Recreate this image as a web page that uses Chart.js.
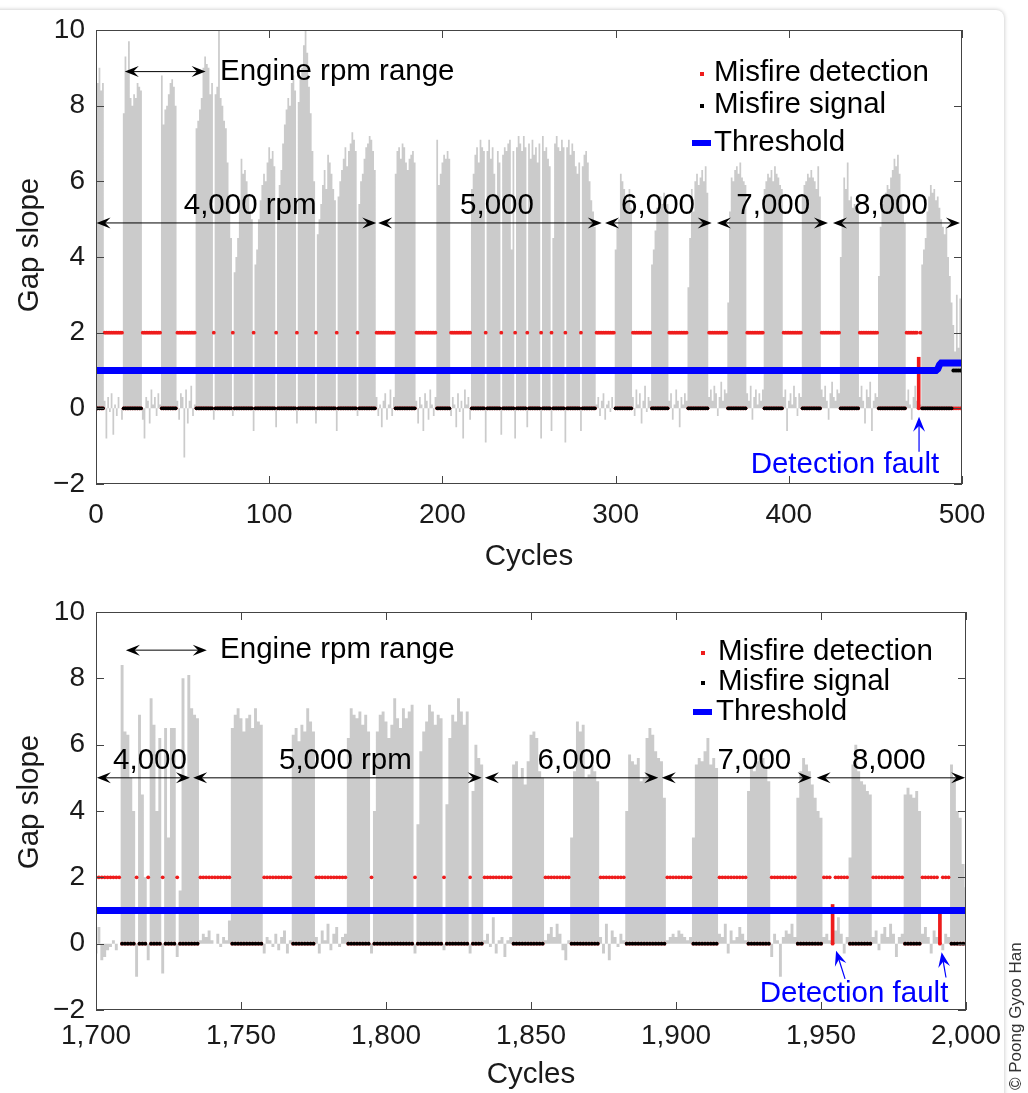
<!DOCTYPE html>
<html><head><meta charset="utf-8">
<script src="https://cdn.jsdelivr.net/npm/chart.js@4.4.1/dist/chart.umd.min.js"></script>
<style>
html,body{margin:0;padding:0;background:#fff;width:1028px;height:1093px;overflow:hidden;font-family:"Liberation Sans",Arial,sans-serif}
#card{position:absolute;left:-10px;top:10px;width:1014px;height:1100px;background:#fff;border-radius:8px;box-shadow:0 0 4px rgba(0,0,0,0.25)}
#c1{position:absolute;left:0;top:0}
#c2{position:absolute;left:0;top:580px}
#copy{position:absolute;left:1007px;top:1090px;transform:rotate(-90deg);transform-origin:0 0;font-size:17px;color:#333;white-space:nowrap;line-height:1}
</style></head>
<body>
<div id="card"></div>
<canvas id="c1" width="1028" height="580"></canvas>
<canvas id="c2" width="1028" height="513"></canvas>
<div id="copy">© Poong Gyoo Han</div>
<script>
// ---------------- DATA: top panel (cycles 0..500) ----------------
const topStart = 0;
const topSlope = [
 9.2,8.6,9.0,8.4,8.6,
 0.2,-0.8,0.3,-0.1,0.4,-0.7,0.1,-0.2,0.3,0.0,-0.3,
 7.8,9.3,8.9,9.7,8.2,8.0,8.3,8.2,8.6,8.5,8.4,
 -0.3,-0.8,0.3,0.2,-0.4,0.5,0.1,0.3,-0.2,0.4,0.1,
 8.8,7.5,7.9,8.0,8.3,8.6,8.7,8.5,8.0,
 0.2,-0.3,0.4,0.3,-1.3,0.5,-0.4,0.2,0.6,-0.2,0.1,
 7.4,7.6,7.9,8.2,9.0,9.3,9.1,9.0,8.3,8.6,
 -0.3,
 8.3,8.5,10.0,8.2,8.0,7.6,7.4,6.5,5.5,4.5,
 -0.2,
 3.6,4.0,4.5,5.5,6.6,6.2,6.3,6.0,5.6,5.2,5.0,
 -0.6,
 3.8,4.2,5.0,5.5,5.9,6.2,6.0,6.5,6.9,6.6,6.8,6.4,
 -0.5,
 5.5,5.9,6.3,7.0,7.5,7.9,8.2,8.0,8.6,8.8,8.4,
 -0.4,
 8.1,8.7,9.0,9.6,10.0,9.4,8.5,7.8,6.8,6.0,
 -0.4,
 4.6,5.0,5.4,5.9,6.3,5.8,6.7,6.5,6.2,5.8,5.5,
 -0.6,
 5.6,6.0,6.3,6.6,6.9,6.4,6.8,7.0,7.3,7.1,6.8,
 -0.2,
 5.4,6.0,6.2,6.6,6.9,7.0,7.2,7.1,6.8,6.3,
 0.3,-0.2,0.1,-0.5,0.2,0.4,-0.3,0.1,0.5,-0.2,0.3,
 6.2,6.8,6.9,6.6,7.0,6.9,6.5,6.3,6.6,6.7,6.8,6.5,
 0.2,-0.4,0.3,0.1,-0.6,0.4,0.2,-0.3,0.5,0.1,-0.2,0.3,
 7.1,5.9,6.2,6.5,6.7,6.6,6.8,6.6,
 -0.2,0.3,0.1,-0.5,0.4,-0.1,0.2,-0.8,0.5,0.1,0.3,-0.3,
 5.8,6.2,6.7,6.9,6.5,7.1,6.9,6.8,
 -0.9,
 6.8,7.1,6.6,6.9,6.2,5.6,6.8,6.5,
 -0.7,
 6.7,6.9,6.8,7.0,7.1,4.2,6.8,
 -0.8,
 6.9,7.2,7.0,6.8,7.2,6.9,
 -0.5,
 7.0,6.6,7.1,6.7,6.9,6.5,7.0,
 -0.8,
 7.2,6.8,6.9,6.6,6.4,
 -0.6,
 4.5,7.0,7.2,6.9,6.8,7.1,6.9,
 -0.9,
 6.9,7.1,6.7,7.0,6.8,6.4,6.2,6.5,
 -0.6,
 6.4,6.7,6.8,6.5,6.0,5.5,5.2,4.8,
 0.1,0.3,-0.2,0.2,0.4,-0.3,0.1,0.2,-0.1,0.3,0.0,
 4.2,4.8,5.0,6.2,6.0,5.8,5.6,5.5,5.8,5.3,
 0.3,-0.2,0.5,0.1,0.4,-0.4,0.2,0.6,-0.1,0.3,0.2,
 3.8,4.2,4.7,5.3,5.5,5.6,5.4,5.7,5.5,5.4,
 0.2,0.4,-0.3,0.1,0.5,0.2,-0.5,0.3,0.1,0.4,0.2,
 3.2,4.5,5.8,5.2,6.0,6.2,5.9,6.1,6.3,6.0,6.4,5.7,
 0.3,0.5,0.2,0.6,0.4,-0.2,0.3,0.7,0.2,0.5,0.4,
 2.8,5.2,6.1,6.0,6.3,6.4,6.2,6.5,6.1,6.0,5.9,
 0.4,0.2,0.6,-0.3,0.3,0.5,0.1,0.4,0.2,0.5,
 5.8,6.0,6.2,6.1,6.3,6.0,6.4,6.2,6.1,5.9,5.8,
 0.3,0.5,-0.6,0.2,0.4,0.1,0.6,0.3,-0.2,0.4,0.3,
 5.6,5.9,6.0,6.2,6.1,6.3,6.1,6.0,5.8,6.4,5.6,
 0.5,0.3,0.6,0.2,-0.3,0.4,0.7,0.3,0.2,0.5,0.4,
 4.0,5.0,6.1,5.8,6.5,5.5,5.6,5.3,5.4,5.2,5.3,
 0.3,0.6,0.2,-0.4,0.5,0.3,0.7,-0.6,0.2,0.4,0.3,
 3.5,4.8,5.4,5.6,5.7,5.9,5.8,6.1,6.3,6.6,6.4,6.7,6.2,5.6,5.2,4.9,
 0.2,0.5,0.1,-0.3,0.3,0.6,0.2,1.35,0.1,
 3.8,4.2,4.5,5.2,5.6,5.9,5.7,5.8,5.5,5.6,5.3,5.0,4.8,4.6,4.8,4.0,3.5,2.8,
 2.2,1.5,3.0,1.6,2.9,1.4
];
const topMisfire = [[0,4],[16,26],[38,46],[58,67],[69,78],[80,90],[92,103],[105,115],[117,126],[128,138],[140,150],[152,161],
 [173,184],[197,204],[217,224],[226,233],[235,241],[243,248],[250,256],[258,262],[264,270],[272,279],[281,288],
 [300,309],[321,330],[342,353],[365,375],[386,396],[408,418],[430,440],[452,467],[477,494]];
const topFalseDetect = [475,495,496,497,498,499,500];
const topFaults = [475];
const topThreshold = [[0,1.0],[485,1.0],[486,1.04],[487,1.15],[488,1.2],[500,1.2]];
const topRpmNames = ['4,000 rpm','5,000','6,000','7,000','8,000'];
const topRpmSpans = [[0.3,161.8],[162.9,292],[293.9,355.5],[358.5,422.6],[425.5,498.8]];
const topRpmLabelX = [89,231.5,324.5,391,459];

// ---------------- DATA: bottom panel (cycles 1700..2000) ----------------
const botStart = 1700;
const botSlope = [
 -0.3,0.5,-0.5,-0.4,-0.2,-0.1,0.1,-0.2,0.0,
 8.4,6.4,6.3,5.0,4.0,
 -1.0,
 6.9,4.5,2.0,
 -0.5,
 7.4,6.6,4.0,6.2,
 -0.9,
 6.5,3.2,6.5,6.5,
 -0.4,
 1.6,8.0,5.0,8.1,7.1,6.9,6.8,
 0.1,0.3,0.2,0.4,0.1,0.0,0.3,-0.1,0.2,0.1,0.7,
 6.5,6.9,7.1,6.8,6.4,6.8,6.9,6.5,7.1,6.7,6.6,
 -0.3,0.2,0.1,-0.1,0.3,-0.2,0.2,0.4,-0.3,0.1,
 6.3,6.5,6.1,6.6,6.4,7.1,6.7,6.4,
 0.2,-0.3,0.4,0.1,0.6,-0.2,0.3,0.5,-0.1,0.2,0.3,
 6.2,7.1,6.9,6.8,7.0,6.6,6.9,6.4,
 -0.3,
 4.0,6.4,6.9,7.0,6.7,6.2,6.6,7.4,6.8,6.5,7.1,6.8,7.0,7.2,
 -0.3,
 3.6,5.8,6.4,6.7,7.2,7.0,6.6,6.9,6.8,
 -0.2,
 4.2,6.2,6.9,6.7,7.4,7.0,6.6,7.0,
 -0.3,
 4.6,6.0,5.6,5.4,
 0.1,0.3,-0.1,0.8,-0.3,0.1,0.2,-0.4,0.1,0.2,
 5.4,5.5,5.0,5.3,4.8,5.5,6.3,6.4,6.2,5.2,5.0,
 0.1,0.3,0.5,0.2,0.6,0.3,-0.2,-0.5,0.1,
 3.2,5.2,6.7,6.4,6.6,5.0,5.1,5.4,5.2,4.9,
 0.2,-0.3,0.6,-0.5,0.4,0.2,-0.1,0.3,0.1,
 4.0,5.7,5.5,5.4,5.6,4.9,5.0,6.2,6.5,6.3,5.8,5.6,5.5,4.4,
 0.1,0.2,0.3,0.2,0.4,0.3,0.2,0.1,0.2,
 3.2,5.4,5.6,5.5,5.8,6.2,5.4,5.6,5.3,
 0.3,0.2,0.6,-0.3,0.4,0.1,0.2,0.5,0.3,0.1,
 4.6,5.3,5.2,5.5,5.7,5.6,5.3,4.9,
 -0.4,0.3,0.1,-1.0,0.2,0.4,0.3,0.6,0.2,
 4.4,5.2,5.6,5.4,5.2,4.8,4.4,4.0,3.8,
 0.2,0.3,0.1,1.18,0.4,0.8,0.3,-0.3,0.2,
 2.6,5.4,6.0,5.2,4.9,4.8,4.6,4.5,
 0.2,0.4,-0.2,0.3,0.5,0.2,0.6,0.3,-0.4,0.2,0.3,
 4.5,4.7,4.5,4.4,4.6,4.0,
 0.3,0.5,0.2,-0.3,0.4,0.2,1.05,-0.2,0.3,0.2,
 5.4,5.0,4.0,3.8,2.4,1.7
];
const botMisfire = [[1709,1713],[1715,1717],[1719,1722],[1724,1727],[1729,1735],[1747,1757],[1768,1775],[1787,1794],[1796,1809],
 [1811,1819],[1821,1828],[1830,1833],[1844,1854],[1864,1873],[1883,1896],[1906,1914],[1925,1932],[1942,1950],[1960,1967],[1979,1984],[1995,2000]];
const botFalseDetect = [1954,1991];
const botFaults = [1954,1991];
const botThreshold = [[1700,1.0],[2000,1.0]];
const botRpmNames = ['4,000','5,000 rpm','6,000','7,000','8,000'];
const botRpmSpans = [[1700.3,1732.4],[1733.5,1833],[1834.1,1893.9],[1895.1,1946.8],[1948.5,1999.7]];
const botRpmLabelX = [1718.6,1786,1865,1927,1973.4];

const legendNames = ['Misfire detection','Misfire signal','Threshold'];
const faultText = 'Detection fault';
const xTitle = 'Cycles', yTitle = 'Gap slope';

// ---------------- helpers ----------------
const FONT = '"Liberation Sans", Arial, Helvetica, sans-serif';
const TXT = 29.5, TICK = 28;
const GRAY = '#cbcbcb', RED = '#ee1c1c', BLUE = '#0000ff';
function inRanges(c, r){ return r.some(a => c >= a[0] && c <= a[1]); }
function pts(start, vals){ return vals.map((v,i)=>({x:start+i, y:v})); }
function signalPts(start, vals, mis){ return vals.map((v,i)=>({x:start+i, y: inRanges(start+i,mis)?0:1})); }
function detectPts(start, vals, mis, fd){ return vals.map((v,i)=>{const c=start+i; return {x:c, y:(inRanges(c,mis)||fd.includes(c))?0:2};}); }
function faultPts(start, vals, faults){ return faults.map(c=>({x:c, y:vals[c-start]})); }
function fmtNum(v){ const s = Math.abs(v).toLocaleString('en-US'); return v<0 ? '\u2212'+s : s; }

function head(ctx, x, y, ang, len, half){
  ctx.save(); ctx.translate(x,y); ctx.rotate(ang);
  ctx.beginPath(); ctx.moveTo(0,0); ctx.lineTo(-len,-half); ctx.lineTo(-len*0.62,0); ctx.lineTo(-len,half); ctx.closePath(); ctx.fill();
  ctx.restore();
}

const deco = {
  id:'deco',
  afterDraw(chart, args, o){
    const {ctx, chartArea:ca, scales:{x,y}} = chart;
    ctx.save();
    // frame + inward ticks
    ctx.strokeStyle = '#444'; ctx.lineWidth = 1;
    ctx.strokeRect(Math.round(ca.left)+0.5, Math.round(ca.top)+0.5, Math.round(ca.right-ca.left)-1, Math.round(ca.bottom-ca.top)-1);
    ctx.beginPath();
    x.ticks.forEach(t=>{const p=Math.round(x.getPixelForValue(t.value))+0.5; ctx.moveTo(p,ca.bottom); ctx.lineTo(p,ca.bottom-8); ctx.moveTo(p,ca.top); ctx.lineTo(p,ca.top+8);});
    y.ticks.forEach(t=>{const p=Math.round(y.getPixelForValue(t.value))+0.5; ctx.moveTo(ca.left,p); ctx.lineTo(ca.left+8,p); ctx.moveTo(ca.right,p); ctx.lineTo(ca.right-8,p);});
    ctx.stroke();
    ctx.fillStyle = '#1a1a1a'; ctx.font = TXT+'px ' + FONT; ctx.textBaseline = 'middle';
    // axis titles
    ctx.textAlign = 'center';
    ctx.fillText(xTitle, (ca.left+ca.right)/2, o.xTitleY);
    ctx.save(); ctx.translate(30, (ca.top+ca.bottom)/2 + o.yTitleShift); ctx.rotate(-Math.PI/2); ctx.fillText(yTitle, 0, 0); ctx.restore();
    // rpm range arrows
    ctx.fillStyle = '#000'; ctx.strokeStyle = '#000'; ctx.lineWidth = 1;
    const ay = y.getPixelForValue(o.arrowY);
    o.spans.forEach((s,i)=>{
      const x1 = x.getPixelForValue(s[0]), x2 = x.getPixelForValue(s[1]);
      ctx.beginPath(); ctx.moveTo(x1+4,ay); ctx.lineTo(x2-4,ay); ctx.stroke();
      head(ctx,x1,ay,Math.PI,14,5.5); head(ctx,x2,ay,0,14,5.5);
      ctx.textAlign='center'; ctx.fillText(o.names[i], x.getPixelForValue(o.labelX[i]), y.getPixelForValue(o.labelY));
    });
    // engine rpm range
    const ey = y.getPixelForValue(o.engY), ex1 = x.getPixelForValue(o.engSpan[0]), ex2 = x.getPixelForValue(o.engSpan[1]);
    ctx.beginPath(); ctx.moveTo(ex1+4,ey); ctx.lineTo(ex2-4,ey); ctx.stroke();
    head(ctx,ex1,ey,Math.PI,14,5.5); head(ctx,ex2,ey,0,14,5.5);
    ctx.textAlign='left'; ctx.fillText('Engine rpm range', x.getPixelForValue(o.engTextX), ey);
    // legend
    const lx = ca.left + o.legX, rows = o.legRows.map(r=>ca.top+r);
    ctx.fillStyle = RED; ctx.fillRect(lx-2, rows[0]-1, 4, 4);
    ctx.fillStyle = '#000'; ctx.fillRect(lx-2, rows[1]-1, 4, 4);
    ctx.fillStyle = BLUE; ctx.fillRect(lx-10, rows[2]-3, 19, 6);
    ctx.fillStyle = '#000'; ctx.textAlign='left';
    legendNames.forEach((n,i)=> ctx.fillText(n, ca.left + (i===2 ? o.legTX2 : o.legTX), rows[i]));
    // detection fault
    ctx.fillStyle = BLUE; ctx.strokeStyle = BLUE; ctx.lineWidth = 1.2;
    ctx.textAlign = 'center';
    ctx.fillText(faultText, x.getPixelForValue(o.faultTextX), y.getPixelForValue(o.faultTextY));
    o.faultArrows.forEach(a=>{
      const tx = x.getPixelForValue(a[0]), ty = y.getPixelForValue(a[1]), hx = x.getPixelForValue(a[2]), hy = y.getPixelForValue(a[3]);
      const ang = Math.atan2(hy-ty, hx-tx);
      ctx.beginPath(); ctx.moveTo(tx,ty); ctx.lineTo(hx-8*Math.cos(ang), hy-8*Math.sin(ang)); ctx.stroke();
      head(ctx,hx,hy,ang,15,6);
    });
    ctx.restore();
  }
};

function makeChart(id, cfg){
  return new Chart(document.getElementById(id), {
    type:'bar',
    data:{ datasets:[
      {type:'line', label:'Threshold', data: cfg.thr.map(p=>({x:p[0],y:p[1]})), borderColor:BLUE, borderWidth:7, pointRadius:0, tension:0, fill:false, order:0},
      {type:'line', label:'Misfire signal', data: signalPts(cfg.start,cfg.slope,cfg.mis), showLine:false, fill:false, pointRadius:1.9, pointStyle:'circle', pointBackgroundColor:'#000', pointBorderWidth:0, order:1},
      {type:'line', label:'Misfire detection', data: detectPts(cfg.start,cfg.slope,cfg.mis,cfg.fd), showLine:false, fill:false, pointRadius:1.9, pointStyle:'circle', pointBackgroundColor:RED, pointBorderWidth:0, order:2},
      {type:'bar', label:'fault', data: faultPts(cfg.start,cfg.slope,cfg.faults), backgroundColor:RED, barThickness:3, grouped:false, order:3},
      {type:'line', label:'Gap slope', data: pts(cfg.start,cfg.slope), stepped:'middle', fill:'origin', backgroundColor:GRAY, borderWidth:0, borderColor:'rgba(0,0,0,0)', pointRadius:0, order:4}
    ]},
    options:{
      responsive:false, animation:false, devicePixelRatio:1,
      layout:{padding:{left:0,right:cfg.padRight,top:cfg.padTop,bottom:0}},
      plugins:{legend:{display:false}, tooltip:{enabled:false}, deco:cfg.deco},
      scales:{
        x:{type:'linear', offset:false, min:cfg.xmin, max:cfg.xmax,
           ticks:{stepSize:cfg.xstep, callback:v=>fmtNum(v), font:{size:TICK,family:FONT}, color:'#1a1a1a', padding:cfg.xTickPad, maxRotation:0, autoSkip:false},
           grid:{display:false, drawTicks:false}, border:{display:false},
           afterFit:s=>{s.height=cfg.xH;}},
        y:{min:-2, max:10,
           ticks:{stepSize:2, callback:v=>fmtNum(v), font:{size:TICK,family:FONT}, color:'#1a1a1a', padding:11},
           grid:{display:false, drawTicks:false}, border:{display:false},
           afterFit:s=>{s.width=96;}}
      }
    },
    plugins:[deco]
  });
}

makeChart('c1', {start:topStart, slope:topSlope, mis:topMisfire, fd:topFalseDetect, faults:topFaults, thr:topThreshold,
  xmin:0, xmax:500, xstep:100, padRight:66, padTop:30, xH:96, xTickPad:14,
  deco:{xTitleY:557, yTitleShift:-12, arrowY:4.9, labelY:5.35, spans:topRpmSpans, names:topRpmNames, labelX:topRpmLabelX,
        engY:8.9, engSpan:[16.6,63.3], engTextX:71.6,
        legX:606, legTX:618, legTX2:618, legRows:[43,75,113],
        faultTextX:432.4, faultTextY:-1.5, faultArrows:[[475.2,-1.15,475.2,-0.22]]}});

makeChart('c2', {start:botStart, slope:botSlope, mis:botMisfire, fd:botFalseDetect, faults:botFaults, thr:botThreshold,
  xmin:1700, xmax:2000, xstep:50, padRight:62, padTop:32, xH:83, xTickPad:9,
  deco:{xTitleY:495, yTitleShift:-9, arrowY:5.0, labelY:5.5, spans:botRpmSpans, names:botRpmNames, labelX:botRpmLabelX,
        engY:8.85, engSpan:[1710.3,1738.2], engTextX:1742.8,
        legX:607, legTX:622, legTX2:620, legRows:[40,70,100],
        faultTextX:1961.4, faultTextY:-1.5, faultArrows:[[1958.3,-1.06,1955.2,-0.21],[1993.1,-1.02,1991.6,-0.26]]}});
</script>
</body></html>
